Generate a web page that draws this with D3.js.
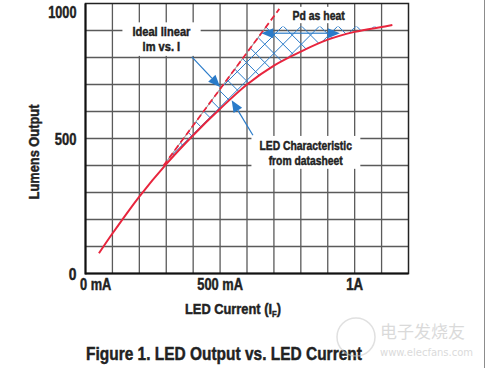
<!DOCTYPE html>
<html>
<head>
<meta charset="utf-8">
<script src="https://cdn.jsdelivr.net/npm/d3@7"></script>
<style>
  body { margin: 0; background: #fff; }
  svg text { font-family: "Liberation Sans", Arial, sans-serif; font-weight: bold; fill: #222; stroke: #222; stroke-width: 0.45px; }
</style>
</head>
<body>
<svg id="chart" width="486" height="368"></svg>
<script>
// LED characteristic (mA, lumens)
var ledCurrent = [50, 100, 200, 300, 400, 500, 600, 700, 800, 900, 1000, 1100, 1140];
var ledLumens  = [75, 148, 285, 405, 512, 610, 700, 770, 822, 866, 895, 913, 920];

// Ideal linear lm vs. I (dashed)
var idealCurrent = [290, 720];
var idealLumens  = [400, 980];

// Top of the "Pd as heat" hatch (lumens)
var heatTop = 915;

// Tick labels
var yTicks = [0, 500, 1000];
var yTickWidths = [7.7, 21.7, 28.3];
var xTicks = [0, 500, 1000];
var xTickLabels = ["0 mA", "500 mA", "1A"];
var xTickWidths = [31.7, 46, 17.3];

var width  = 486;
var height = 368;

var svg = d3.select("#chart");

var x = d3.scaleLinear().domain([0, 1200]).range([85.5, 408.5]);
var y = d3.scaleLinear().domain([0, 1000]).range([273.5, 3.5]);

var red  = "#e8253d";
var blue = "#2a7bc9";
var grid = "#5a5a5a";

// squeeze a text horizontally to a given width (condensed face)
function fit(sel, w) {
    var b = sel.node().getBBox();
    var s = w / b.width;
    var anchor = sel.attr("text-anchor") || "start";
    var ax = anchor === "middle" ? b.x + b.width / 2 : anchor === "end" ? b.x + b.width : b.x;
    var prev = sel.attr("transform") || "";
    sel.attr("transform", prev + " translate(" + ax + ",0) scale(" + s + ",1) translate(" + (-ax) + ",0)");
}

// Grid
svg.append("g")
    .selectAll("line")
    .data(d3.range(100, 1200, 100))
    .enter().append("line")
    .attr("x1", d => x(d)).attr("x2", d => x(d))
    .attr("y1", y(0)).attr("y2", y(1000))
    .attr("stroke", grid).attr("stroke-width", 1.3);

svg.append("g")
    .selectAll("line")
    .data(d3.range(100, 1000, 100))
    .enter().append("line")
    .attr("x1", x(0)).attr("x2", x(1200))
    .attr("y1", d => y(d)).attr("y2", d => y(d))
    .attr("stroke", grid).attr("stroke-width", 1.3);

// Frame
svg.append("rect")
    .attr("x", x(0)).attr("y", y(1000))
    .attr("width", x(1200) - x(0)).attr("height", y(0) - y(1000))
    .attr("fill", "none").attr("stroke", "#222").attr("stroke-width", 1.5);
svg.append("line")
    .attr("x1", x(0)).attr("x2", x(0)).attr("y1", y(1000)).attr("y2", y(0) + 1)
    .attr("stroke", "#111").attr("stroke-width", 2);
svg.append("line")
    .attr("x1", x(0)).attr("x2", x(1200)).attr("y1", y(0)).attr("y2", y(0))
    .attr("stroke", "#111").attr("stroke-width", 2);

var led = ledCurrent.map((c, i) => [c, ledLumens[i]]);
var ideal = idealCurrent.map((c, i) => [c, idealLumens[i]]);
var slope = (idealLumens[1] - idealLumens[0]) / (idealCurrent[1] - idealCurrent[0]);
var idealAt = lm => idealCurrent[0] + (lm - idealLumens[0]) / slope;

var line = d3.line()
    .x(d => x(d[0]))
    .y(d => y(d[1]))
    .curve(d3.curveCatmullRom);

// Hatch clip: right of ideal line, below heatTop, above the LED curve
var defs = svg.append("defs");
defs.append("clipPath").attr("id", "clipIdeal")
    .append("path")
    .attr("d", d3.line()([
        [x(idealCurrent[0]), y(idealLumens[0])],
        [x(idealAt(heatTop)), y(heatTop)],
        [x(1200), y(heatTop)],
        [x(1200), y(0)],
        [x(idealCurrent[0]), y(0)]
    ]) + "Z");
defs.append("clipPath").attr("id", "clipCurve")
    .append("path")
    .attr("d", line(led) + "L" + x(1140) + "," + y(1000) + "L" + x(50) + "," + y(1000) + "Z");

var hatch = svg.append("g").attr("clip-path", "url(#clipIdeal)")
    .append("g").attr("clip-path", "url(#clipCurve)");

var step = x(68) - x(0);
var ax = x(734), ay = y(917);
d3.range(-30, 31).map(k => k * step).forEach(function(o) {
    hatch.append("line")
        .attr("x1", ax + o - 400).attr("y1", ay - 400)
        .attr("x2", ax + o + 400).attr("y2", ay + 400)
        .attr("stroke", blue).attr("stroke-width", 1);
    hatch.append("line")
        .attr("x1", ax + o - 400).attr("y1", ay + 400)
        .attr("x2", ax + o + 400).attr("y2", ay - 400)
        .attr("stroke", blue).attr("stroke-width", 1);
});

// Ideal line: grey under red dashes
svg.append("path")
    .datum([ideal[0], [idealAt(heatTop), heatTop]])
    .attr("d", d3.line().x(d => x(d[0])).y(d => y(d[1])))
    .attr("stroke", "#8a8a8a").attr("stroke-width", 1).attr("fill", "none");
svg.append("path")
    .datum(ideal)
    .attr("d", d3.line().x(d => x(d[0])).y(d => y(d[1])))
    .attr("stroke", red).attr("stroke-width", 1.8)
    .attr("stroke-dasharray", "6,3.5").attr("fill", "none");

// LED curve
svg.append("path")
    .datum(led)
    .attr("d", line)
    .attr("stroke", red).attr("stroke-width", 2).attr("fill", "none");

// Arrows
function arrow(from, to) {
    var x0 = x(from[0]), y0 = y(from[1]), x1 = x(to[0]), y1 = y(to[1]);
    var a = Math.atan2(y1 - y0, x1 - x0);
    var len = 12, w = 5;
    var bx = x1 - len * Math.cos(a), by = y1 - len * Math.sin(a);
    svg.append("line")
        .attr("x1", x0).attr("y1", y0).attr("x2", bx).attr("y2", by)
        .attr("stroke", blue).attr("stroke-width", 1.2);
    svg.append("path")
        .attr("d", "M" + x1 + "," + y1 +
            "L" + (bx + w * Math.sin(a)) + "," + (by - w * Math.cos(a)) +
            "L" + (bx - w * Math.sin(a)) + "," + (by + w * Math.cos(a)) + "Z")
        .attr("fill", blue);
}
arrow([395, 802], [500, 691]);
arrow([622, 512], [543, 642]);
var mid = [(idealAt(890) + 945) / 2, 890];
arrow(mid, [idealAt(890), 890]);
arrow(mid, [945, 890]);

// Labels with white boxes
function label(lines, cx, cy, w, padX, padY) {
    var g = svg.append("g");
    var t = g.append("text")
        .attr("text-anchor", "middle")
        .attr("font-size", 13);
    lines.forEach(function(s, i) {
        t.append("tspan").attr("x", x(cx)).attr("y", y(cy) + i * 14.5).text(s);
    });
    fit(t, w);
    var b = g.node().getBBox();
    g.insert("rect", "text").attr("fill", "#fff")
        .attr("x", b.x - padX).attr("y", b.y - padY)
        .attr("width", b.width + 2 * padX).attr("height", b.height + 2 * padY);
}
label(["Ideal linear", "lm vs. I"], 282, 879, 58, 10, 2);
label(["LED Characteristic", "from datasheet"], 818, 457, 92.6, 8, 2);
label(["Pd as heat"], 866, 939, 52.7, 5, 1);

// Y tick labels
svg.append("g")
    .selectAll("text")
    .data(yTicks)
    .enter().append("text")
    .attr("x", x(0) - 9)
    .attr("y", d => Math.max(y(d), y(1000) + 8))
    .attr("dy", "0.36em")
    .attr("text-anchor", "end")
    .attr("font-size", 17)
    .text(d => d)
    .each(function(d, i) { fit(d3.select(this), yTickWidths[i]); });

// X tick labels
svg.append("g")
    .selectAll("text")
    .data(xTicks)
    .enter().append("text")
    .attr("x", (d, i) => i === 0 ? x(d) - 5.5 : x(d))
    .attr("y", 290.5)
    .attr("text-anchor", (d, i) => i === 0 ? "start" : "middle")
    .attr("font-size", 16)
    .text((d, i) => xTickLabels[i])
    .each(function(d, i) { fit(d3.select(this), xTickWidths[i]); });

// Axis titles
var xt = svg.append("text")
    .attr("x", 233).attr("y", 314.5)
    .attr("text-anchor", "middle")
    .attr("font-size", 15);
xt.append("tspan").text("LED Current (I");
xt.append("tspan").attr("font-size", 9).attr("dy", 3).text("F");
xt.append("tspan").attr("dy", -3).text(")");
fit(xt, 96);

var yt = svg.append("text")
    .attr("transform", "translate(39,152) rotate(-90)")
    .attr("text-anchor", "middle")
    .attr("font-size", 15)
    .text("Lumens Output");
fit(yt, 95);

// Caption
var cap = svg.append("text")
    .attr("x", 86).attr("y", 360)
    .attr("font-size", 18.5)
    .text("Figure 1. LED Output vs. LED Current");
fit(cap, 276);

// Image edge
svg.append("line")
    .attr("x1", 484.5).attr("x2", 484.5).attr("y1", 0).attr("y2", height)
    .attr("stroke", "#8c8c8c").attr("stroke-width", 1);

// Watermark
var wm = svg.append("g").attr("opacity", 0.55);
wm.append("circle").attr("cx", 356).attr("cy", 337).attr("r", 19)
    .attr("fill", "none").attr("stroke", "#c8c8c8").attr("stroke-width", 1.5);
wm.append("text")
    .attr("x", 380).attr("y", 338)
    .attr("font-size", 17)
    .style("font-family", "'Noto Sans CJK SC', sans-serif")
    .style("font-weight", "normal")
    .style("fill", "#bdbdbd")
    .style("stroke", "none")
    .text("电子发烧友");
wm.append("text")
    .attr("x", 380).attr("y", 356)
    .attr("font-size", 10)
    .style("font-family", "'DejaVu Sans', sans-serif")
    .style("font-weight", "normal")
    .style("fill", "#bdbdbd")
    .style("stroke", "none")
    .text("www.elecfans.com");
</script>
</body>
</html>
